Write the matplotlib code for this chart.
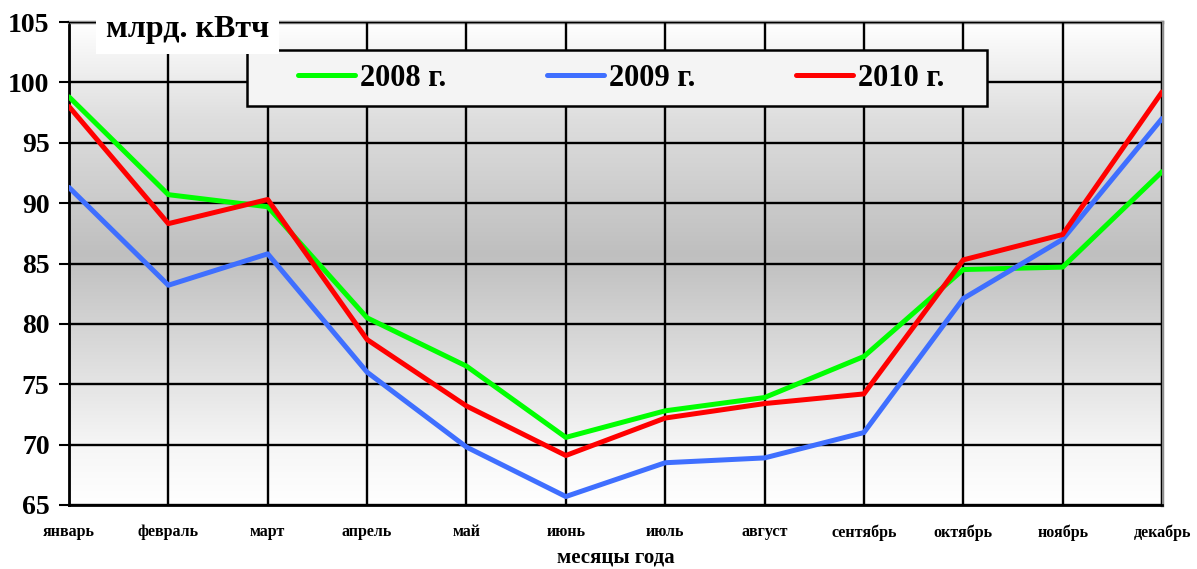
import numpy as np
import matplotlib
matplotlib.use("Agg")
import matplotlib.pyplot as plt
from matplotlib.colors import LinearSegmentedColormap
from matplotlib.patches import Rectangle

months = ["январь", "февраль", "март", "апрель", "май", "июнь",
          "июль", "август", "сентябрь", "октябрь", "ноябрь", "декабрь"]
v2008 = [98.8, 90.7, 89.7, 80.5, 76.5, 70.6, 72.8, 73.9, 77.3, 84.5, 84.7, 92.6]
v2009 = [91.3, 83.2, 85.8, 76.0, 69.8, 65.7, 68.5, 68.9, 71.0, 82.1, 87.0, 97.0]
v2010 = [98.0, 88.3, 90.3, 78.7, 73.2, 69.1, 72.2, 73.4, 74.2, 85.3, 87.4, 99.2]
series = [("2008 г.", v2008, "#00ff00"),
          ("2009 г.", v2009, "#3f6fff"),
          ("2010 г.", v2010, "#ff0000")]
yticks = [65, 70, 75, 80, 85, 90, 95, 100, 105]

plt.rcParams['font.family'] = ['Liberation Serif', 'DejaVu Serif']
plt.rcParams['font.weight'] = 'bold'

W, H = 1197, 569
fig = plt.figure(figsize=(W / 100, H / 100), dpi=100)
ax = fig.add_axes([69 / W, (H - 505) / H, (1162 - 69) / W, (505 - 22) / H])

x = np.arange(len(months))
ax.set_xlim(0, len(months) - 1)
ax.set_ylim(65, 105)

# background gradient: white top, gray middle, white bottom
cmap = LinearSegmentedColormap.from_list(
    "bg", [(0.0, "#ffffff"), (0.12, "#f6f6f6"), (0.52, "#bfbfbf"), (0.8, "#dedede"), (1.0, "#ffffff")])
grad = np.linspace(1, 0, 256).reshape(-1, 1)
ax.imshow(grad, cmap=cmap, aspect="auto", extent=[0, len(months) - 1, 65, 105],
          zorder=0, interpolation="bicubic")

ax.set_xticks(x)
ax.set_xticklabels(months, fontsize=11.5, fontweight="bold")
ax.set_yticks(yticks)
ax.set_yticklabels([str(t) for t in yticks], fontsize=20, fontweight="bold")
ax.tick_params(axis="x", length=0, pad=14)
ax.tick_params(axis="y", length=7, width=1.5, direction="out", pad=7)
ax.grid(True, color="black", linewidth=1.7, zorder=1)
ax.set_axisbelow(False)

for name, vals, col in series:
    ax.plot(x, vals, color=col, linewidth=3.6, label=name, zorder=3, solid_capstyle="round")

for s in ["left", "bottom"]:
    ax.spines[s].set_color("black")
    ax.spines[s].set_linewidth(2)
for s in ["top", "right"]:
    ax.spines[s].set_color("#8c8c8c")
    ax.spines[s].set_linewidth(2.5)

ax.set_xlabel("месяцы года", fontsize=15, fontweight="bold", labelpad=5)

# legend frame drawn as a figure rectangle
fig.patches.append(Rectangle((247 / W, 1 - 106 / H), (987 - 247) / W, (106 - 50) / H,
                             transform=fig.transFigure, facecolor="#f4f4f4",
                             edgecolor="black", linewidth=1.8, zorder=4))
leg = fig.legend(*ax.get_legend_handles_labels(), loc="center left",
                 bbox_to_anchor=(298 / W, 1 - 78 / H), ncol=3, frameon=False,
                 fontsize=22, handlelength=1.85, columnspacing=3.3,
                 handletextpad=0.18, borderpad=0, borderaxespad=0)
leg.set_zorder(6)
for t in leg.get_texts():
    t.set_fontweight("bold")

fig.text(106 / W, 1 - 30 / H, "млрд. кВтч", fontsize=23, fontweight="bold", va="center", ha="left",
         bbox=dict(boxstyle="square,pad=0.3", facecolor="white", edgecolor="none"), zorder=10)

fig.savefig("out.png", dpi=100)
